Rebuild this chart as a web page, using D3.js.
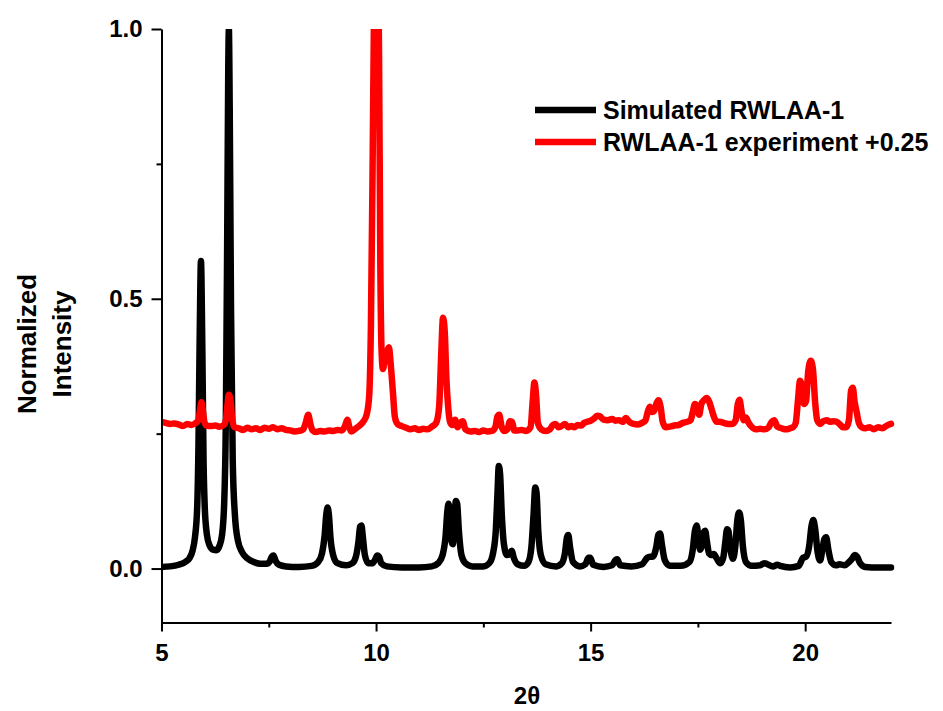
<!DOCTYPE html>
<html>
<head>
<meta charset="utf-8">
<script src="https://cdn.jsdelivr.net/npm/d3@7"></script>
<style>
  html, body { margin: 0; padding: 0; background: #ffffff; }
  svg { display: block; }
  text { font-family: "Liberation Sans", Arial, Helvetica, sans-serif; font-weight: bold; fill: #000; }
</style>
</head>
<body>
<svg id="chart" width="943" height="711"></svg>
<script>
// Powder XRD patterns: simulated vs. measured (measured shifted up by +0.25)

// [2θ, normalized intensity] – simulated pattern
const simulated = [
  [5.00,0.003],[5.20,0.004],[5.40,0.007],[5.55,0.012],[5.65,0.019],[5.72,0.032],[5.78,0.058],[5.83,0.11],
  [5.86,0.22],[5.89,0.43],[5.92,0.57],[5.95,0.42],[5.98,0.2],[6.01,0.11],[6.06,0.062],[6.12,0.043],
  [6.20,0.035],[6.28,0.034],[6.35,0.042],[6.41,0.062],[6.46,0.12],[6.50,0.28],[6.53,0.6],[6.555,0.92],
  [6.57,1.0],[6.59,0.85],[6.62,0.48],[6.66,0.2],[6.71,0.1],[6.78,0.052],[6.88,0.03],[7.00,0.019],
  [7.15,0.012],[7.30,0.009],[7.45,0.009],[7.52,0.013],[7.57,0.022],[7.61,0.024],[7.66,0.014],[7.74,0.007],
  [7.90,0.004],[8.20,0.003],[8.50,0.005],[8.65,0.012],[8.74,0.028],[8.80,0.06],[8.84,0.1],[8.87,0.113],
  [8.90,0.1],[8.94,0.055],[9.00,0.025],[9.10,0.01],[9.30,0.006],[9.45,0.01],[9.53,0.022],[9.59,0.05],
  [9.63,0.078],[9.66,0.08],[9.69,0.06],[9.74,0.025],[9.82,0.01],[9.92,0.01],[9.98,0.017],[10.03,0.024],
  [10.07,0.022],[10.12,0.01],[10.25,0.004],[10.60,0.002],[11.00,0.002],[11.30,0.004],[11.45,0.01],[11.55,0.025],
  [11.62,0.06],[11.66,0.105],[11.69,0.12],[11.72,0.1],[11.76,0.05],[11.79,0.045],[11.83,0.095],[11.86,0.125],
  [11.89,0.12],[11.93,0.07],[11.99,0.025],[12.08,0.01],[12.25,0.004],[12.50,0.004],[12.64,0.01],[12.73,0.03],
  [12.79,0.07],[12.83,0.14],[12.86,0.19],[12.89,0.175],[12.93,0.1],[12.98,0.045],[13.05,0.025],[13.11,0.027],
  [13.16,0.033],[13.21,0.02],[13.30,0.008],[13.45,0.005],[13.55,0.012],[13.62,0.04],[13.67,0.1],[13.71,0.15],
  [13.74,0.14],[13.78,0.07],[13.84,0.025],[13.95,0.008],[14.20,0.004],[14.33,0.01],[14.40,0.028],[14.45,0.058],
  [14.48,0.062],[14.52,0.04],[14.59,0.012],[14.75,0.004],[14.88,0.008],[14.95,0.02],[14.99,0.02],[15.06,0.007],
  [15.30,0.003],[15.50,0.006],[15.58,0.016],[15.62,0.017],[15.69,0.006],[15.95,0.004],[16.20,0.008],[16.32,0.02],
  [16.38,0.022],[16.45,0.022],[16.53,0.04],[16.58,0.063],[16.62,0.065],[16.66,0.045],[16.73,0.015],[16.85,0.005],
  [17.10,0.005],[17.30,0.012],[17.38,0.035],[17.43,0.07],[17.47,0.08],[17.51,0.06],[17.55,0.035],[17.60,0.045],
  [17.64,0.068],[17.67,0.07],[17.71,0.05],[17.76,0.028],[17.82,0.025],[17.87,0.027],[17.93,0.02],[18.02,0.01],
  [18.09,0.02],[18.14,0.05],[18.18,0.073],[18.21,0.07],[18.26,0.035],[18.32,0.018],[18.37,0.04],[18.42,0.09],
  [18.46,0.104],[18.50,0.09],[18.55,0.04],[18.62,0.012],[18.75,0.005],[18.95,0.006],[19.05,0.01],[19.12,0.008],
  [19.25,0.004],[19.35,0.007],[19.42,0.005],[19.65,0.002],[19.85,0.005],[19.95,0.02],[20.02,0.022],[20.09,0.04],
  [20.15,0.08],[20.19,0.09],[20.23,0.075],[20.29,0.03],[20.35,0.015],[20.40,0.035],[20.45,0.055],[20.49,0.058],
  [20.54,0.035],[20.61,0.012],[20.72,0.006],[20.80,0.008],[20.92,0.006],[21.02,0.012],[21.09,0.018],[21.16,0.025],
  [21.21,0.022],[21.28,0.01],[21.40,0.003],[21.70,0.002],[22.00,0.002]
];

// [2θ, normalized intensity] – measured pattern (before offset)
const experiment = [
  [5.00,0.022],[5.10,0.020],[5.20,0.018],[5.30,0.019],[5.40,0.017],[5.50,0.014],[5.60,0.018],[5.70,0.016],
  [5.80,0.020],[5.86,0.025],[5.90,0.045],[5.93,0.058],[5.96,0.045],[6.00,0.022],[6.05,0.015],[6.15,0.014],
  [6.25,0.015],[6.35,0.013],[6.45,0.016],[6.50,0.025],[6.54,0.055],[6.57,0.072],[6.61,0.060],[6.65,0.025],
  [6.70,0.012],[6.80,0.010],[6.90,0.007],[7.00,0.011],[7.10,0.008],[7.20,0.010],[7.30,0.007],[7.40,0.011],
  [7.50,0.009],[7.60,0.012],[7.70,0.008],[7.80,0.010],[7.90,0.007],[8.00,0.006],[8.10,0.004],[8.20,0.005],
  [8.30,0.008],[8.36,0.020],[8.42,0.035],[8.47,0.018],[8.52,0.006],[8.60,0.003],[8.70,0.005],[8.80,0.004],
  [8.90,0.006],[9.00,0.005],[9.10,0.007],[9.20,0.006],[9.28,0.015],[9.33,0.026],[9.38,0.012],[9.42,0.004],
  [9.50,0.008],[9.60,0.014],[9.70,0.022],[9.78,0.035],[9.84,0.070],[9.88,0.200],[9.92,0.500],[9.96,0.850],
  [10.00,1.050],[10.04,0.950],[10.07,0.700],[10.10,0.310],[10.13,0.150],[10.16,0.120],[10.20,0.135],[10.25,0.150],
  [10.30,0.160],[10.34,0.130],[10.39,0.080],[10.44,0.030],[10.50,0.018],[10.60,0.014],[10.70,0.011],[10.80,0.008],
  [10.90,0.010],[11.00,0.007],[11.10,0.009],[11.20,0.008],[11.30,0.013],[11.40,0.020],[11.47,0.050],[11.52,0.150],
  [11.56,0.215],[11.60,0.190],[11.64,0.100],[11.68,0.050],[11.73,0.020],[11.78,0.016],[11.84,0.026],[11.90,0.012],
  [11.96,0.020],[12.02,0.023],[12.08,0.008],[12.20,0.004],[12.30,0.005],[12.40,0.003],[12.50,0.006],[12.60,0.004],
  [12.70,0.005],[12.78,0.012],[12.83,0.032],[12.87,0.035],[12.92,0.015],[12.98,0.005],[13.06,0.008],[13.12,0.023],
  [13.17,0.022],[13.22,0.006],[13.30,0.006],[13.40,0.007],[13.50,0.005],[13.60,0.012],[13.65,0.060],[13.69,0.095],
  [13.73,0.070],[13.77,0.020],[13.85,0.008],[13.95,0.005],[14.05,0.008],[14.12,0.016],[14.18,0.018],[14.25,0.012],
  [14.32,0.014],[14.40,0.018],[14.48,0.012],[14.55,0.014],[14.62,0.012],[14.70,0.016],[14.78,0.015],[14.85,0.020],
  [14.92,0.022],[15.00,0.024],[15.08,0.028],[15.15,0.033],[15.22,0.032],[15.30,0.026],[15.40,0.025],[15.50,0.027],
  [15.58,0.024],[15.66,0.025],[15.75,0.022],[15.82,0.029],[15.90,0.022],[16.00,0.018],[16.10,0.017],[16.20,0.020],
  [16.28,0.025],[16.33,0.040],[16.38,0.050],[16.43,0.040],[16.48,0.042],[16.53,0.055],[16.58,0.062],[16.63,0.050],
  [16.68,0.022],[16.75,0.012],[16.85,0.013],[16.95,0.015],[17.05,0.016],[17.15,0.020],[17.25,0.022],[17.33,0.025],
  [17.38,0.040],[17.43,0.055],[17.48,0.050],[17.53,0.035],[17.58,0.055],[17.64,0.062],[17.70,0.066],[17.76,0.060],
  [17.82,0.045],[17.88,0.030],[17.94,0.022],[18.00,0.022],[18.10,0.020],[18.20,0.018],[18.30,0.018],[18.38,0.025],
  [18.43,0.055],[18.47,0.063],[18.52,0.040],[18.57,0.025],[18.62,0.030],[18.67,0.022],[18.75,0.013],[18.85,0.008],
  [18.95,0.009],[19.05,0.008],[19.15,0.012],[19.22,0.022],[19.28,0.025],[19.35,0.013],[19.45,0.010],[19.55,0.008],
  [19.65,0.010],[19.72,0.012],[19.78,0.020],[19.83,0.060],[19.88,0.098],[19.92,0.090],[19.97,0.055],[20.02,0.060],
  [20.07,0.115],[20.13,0.135],[20.18,0.120],[20.23,0.060],[20.28,0.025],[20.35,0.018],[20.42,0.023],[20.50,0.025],
  [20.58,0.022],[20.66,0.023],[20.73,0.022],[20.80,0.018],[20.88,0.012],[20.96,0.012],[21.02,0.025],[21.07,0.080],
  [21.11,0.085],[21.15,0.060],[21.20,0.040],[21.25,0.020],[21.32,0.012],[21.40,0.010],[21.50,0.012],[21.60,0.008],
  [21.70,0.012],[21.80,0.010],[21.90,0.015],[22.00,0.018]
];

const experimentOffset = 0.25;

const seriesNames = ["Simulated RWLAA-1", "RWLAA-1 experiment +0.25"];
const seriesColors = ["#000000", "#ff0000"];

const xMajorTicks = [5, 10, 15, 20];
const xMinorTicks = [7.5, 12.5, 17.5];
const yMajorTicks = [0.0, 0.5, 1.0];
const yMinorTicks = [0.25, 0.75];
const yTickLabels = ["0.0", "0.5", "1.0"];

const xTitle = "2θ";
const yTitleLines = ["Normalized", "Intensity"];

// ---- layout ----
const svg = d3.select("#chart");
const plot = { left: 161.5, right: 891, top: 29, bottom: 622.5 };
const traceWidth = 6.5;

const x = d3.scaleLinear().domain([5, 22]).range([plot.left, plot.right]);
const y = d3.scaleLinear().domain([-0.1, 1.0]).range([plot.bottom, plot.top]);

svg.append("rect").attr("width", 943).attr("height", 711).attr("fill", "#fff");

svg.append("defs").append("clipPath").attr("id", "plotClip")
  .append("rect")
  .attr("x", plot.left).attr("y", plot.top)
  .attr("width", plot.right - plot.left + 4)
  .attr("height", plot.bottom - plot.top);

// ---- traces ----
const line = d3.line()
  .x(d => x(d[0]))
  .y(d => y(d[1]))
  .curve(d3.curveMonotoneX);

const traces = svg.append("g").attr("clip-path", "url(#plotClip)");

traces.append("path")
  .datum(simulated)
  .attr("d", line)
  .attr("fill", "none")
  .attr("stroke", seriesColors[0])
  .attr("stroke-width", traceWidth)
  .attr("stroke-linejoin", "round")
  .attr("stroke-linecap", "round");

traces.append("path")
  .datum(experiment.map(d => [d[0], d[1] + experimentOffset]))
  .attr("d", line)
  .attr("fill", "none")
  .attr("stroke", seriesColors[1])
  .attr("stroke-width", traceWidth)
  .attr("stroke-linejoin", "round")
  .attr("stroke-linecap", "round");

// ---- axes ----
const tickFont = 24;

svg.append("g")
  .attr("transform", `translate(0,${plot.bottom})`)
  .call(d3.axisBottom(x).tickValues(xMajorTicks).tickSize(9).tickSizeOuter(0).tickPadding(12)
        .tickFormat(d3.format("d")));
svg.append("g")
  .attr("transform", `translate(0,${plot.bottom})`)
  .call(d3.axisBottom(x).tickValues(xMinorTicks).tickSize(5).tickSizeOuter(0).tickFormat(""))
  .call(g => g.select(".domain").remove());

svg.append("g")
  .attr("transform", `translate(${plot.left},0)`)
  .call(d3.axisLeft(y).tickValues(yMajorTicks).tickSize(10).tickSizeOuter(0).tickPadding(9)
        .tickFormat((d, i) => yTickLabels[i]));
svg.append("g")
  .attr("transform", `translate(${plot.left},0)`)
  .call(d3.axisLeft(y).tickValues(yMinorTicks).tickSize(5).tickSizeOuter(0).tickFormat(""))
  .call(g => g.select(".domain").remove());

svg.selectAll(".domain").attr("stroke", "#000").attr("stroke-width", 2);
svg.selectAll(".tick line").attr("stroke", "#000").attr("stroke-width", 2);
svg.selectAll(".tick text")
  .attr("font-size", tickFont)
  .attr("font-family", "'Liberation Sans', Arial, sans-serif")
  .attr("font-weight", "bold")
  .attr("fill", "#000");

// ---- axis titles ----
svg.append("text")
  .attr("x", 527).attr("y", 704)
  .attr("text-anchor", "middle")
  .attr("font-size", 24)
  .text(xTitle);

const yTitle = svg.append("text")
  .attr("transform", "translate(36,344) rotate(-90)")
  .attr("text-anchor", "middle")
  .attr("font-size", 26);
yTitleLines.forEach((t, i) => {
  yTitle.append("tspan").attr("x", 0).attr("dy", i === 0 ? 0 : 34.5).text(t);
});

// ---- legend ----
const legend = svg.append("g").attr("transform", "translate(535,110)");
seriesNames.forEach((name, i) => {
  const row = legend.append("g").attr("transform", `translate(0,${i * 32})`);
  row.append("line")
    .attr("x1", 0).attr("x2", 61).attr("y1", 0).attr("y2", 0)
    .attr("stroke", seriesColors[i]).attr("stroke-width", traceWidth);
  row.append("text")
    .attr("x", 68).attr("y", 9)
    .attr("font-size", 25)
    .text(name);
});
</script>
</body>
</html>
